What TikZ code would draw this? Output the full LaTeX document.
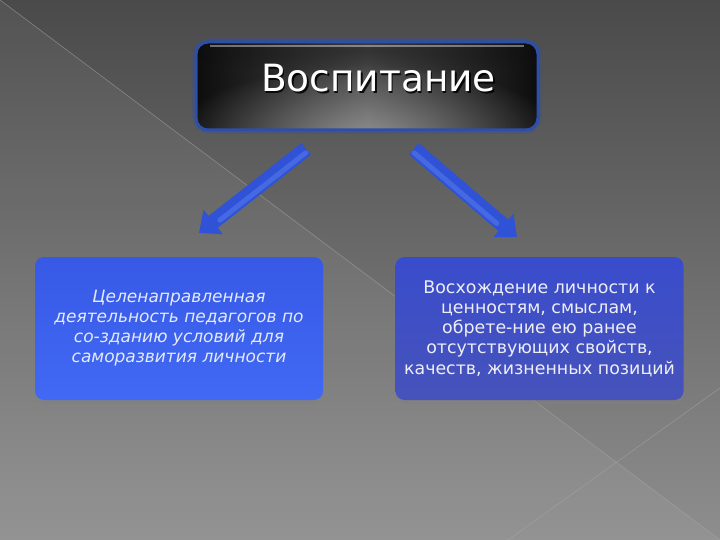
\documentclass[tikz,border=0pt]{standalone}
\usepackage{fontspec}
\setmainfont{DejaVu Sans}
\usetikzlibrary{arrows.meta,shadows,calc,fadings}
\tikzfading[name=radfade, inner color=transparent!0, outer color=transparent!100]
\definecolor{bgtop}{HTML}{4A4A4A}
\definecolor{bgbot}{HTML}{8E8E8E}
\definecolor{diagline}{HTML}{A8A8A0}
\definecolor{boxblue}{HTML}{2E4FA8}
\definecolor{arrowblue}{HTML}{2F52D6}
\definecolor{arrowlight}{HTML}{5C7EF0}
\definecolor{lbtop}{HTML}{3759E6}
\definecolor{lbbot}{HTML}{4169F4}
\definecolor{rbtop}{HTML}{394CCC}
\definecolor{rbbot}{HTML}{4753BA}
\definecolor{ltext}{HTML}{E4EAFA}
\definecolor{rtext}{HTML}{EEEEF6}
\definecolor{boxmid}{HTML}{4A4A4A}
\begin{document}
\begin{tikzpicture}[x=1pt,y=-1pt,
  diag/.style={draw=diagline, line width=0.7pt, opacity=0.5},
  topbox/.style={minimum width=342pt, minimum height=88pt, outer sep=0pt, inner sep=0pt},
  bigarrow/.style={draw=arrowblue, line width=15pt, -{Triangle[length=18pt,width=30pt]}},
  arrowshine/.style={draw=arrowlight, line width=5pt, opacity=0.5, line cap=round},
  bluebox/.style={rounded corners=9pt, minimum width=288pt, minimum height=143pt, align=center, inner sep=2pt,
    drop shadow={opacity=0.35, shadow xshift=0pt, shadow yshift=-4pt}},
  lefttext/.style={text=ltext, font=\itshape\fontsize{17}{20}\selectfont},
  righttext/.style={text=rtext, font=\fontsize{17.4}{20.2}\selectfont},
  titlefont/.style={font=\fontsize{37.5}{42}\selectfont}
]
\useasboundingbox (0,0) rectangle (720,540);
% background
\shade[top color=bgtop, bottom color=bgbot] (0,0) rectangle (720,540);
\fill[white, opacity=0.05] (0,0) -- (720,540) -- (0,540) -- cycle;
\draw[diag] (0,0) -- (720,540);
\draw[diag] (720,388) -- (508,540);

% top box
\node[topbox] (top) at (367,86) {};
\draw[boxblue, line width=8pt, opacity=0.25, rounded corners=13pt] (top.north west) rectangle (top.south east);
\shade[rounded corners=12pt, left color=black!95, right color=black!95, middle color=boxmid] (top.north west) rectangle (top.south east);
\begin{scope}
  \clip[rounded corners=12pt] (top.north west) rectangle (top.south east);
  \fill[white, opacity=0.4, path fading=radfade] ($(top.south)+(0,10)$) ellipse (200pt and 75pt);
  \fill[black, opacity=0.3, path fading=radfade] ($(top.north)+(0,8)$) ellipse (180pt and 25pt);
  \draw[white, line width=1.2pt, opacity=0.4] ($(top.north west)+(14,4)$) -- ($(top.north east)+(-14,4)$);
\end{scope}
\draw[boxblue, line width=3pt, rounded corners=12pt] (top.north west) rectangle (top.south east);
\node[titlefont, text=black, opacity=0.85] at (380,80) {Воспитание};
\node[titlefont, text=white] (title) at (378.5,78.5) {Воспитание};

% arrows
\coordinate (la0) at (306,149);
\coordinate (la1) at (199,233);
\coordinate (ra0) at (414,149);
\coordinate (ra1) at (517,237);
\draw[bigarrow] (la0) -- (la1);
\draw[bigarrow] (ra0) -- (ra1);
\draw[arrowshine, shorten >=24pt, shorten <=3pt] ($(la0)+(2,2)$) -- ($(la1)+(2,2)$);
\draw[arrowshine, shorten >=24pt, shorten <=3pt] ($(ra0)+(-2,2)$) -- ($(ra1)+(-2,2)$);

% bottom boxes
\node[bluebox, top color=lbtop, bottom color=lbbot, lefttext] (lb) at (179,328.5)
  {Целенаправленная\\деятельность педагогов по\\со-зданию условий для\\саморазвития личности};
\node[bluebox, top color=rbtop, bottom color=rbbot, righttext] (rb) at (539.5,328.5)
  {Восхождение личности к\\ценностям, смыслам,\\обрете-ние ею ранее\\отсутствующих свойств,\\качеств, жизненных позиций};
\end{tikzpicture}
\end{document}
